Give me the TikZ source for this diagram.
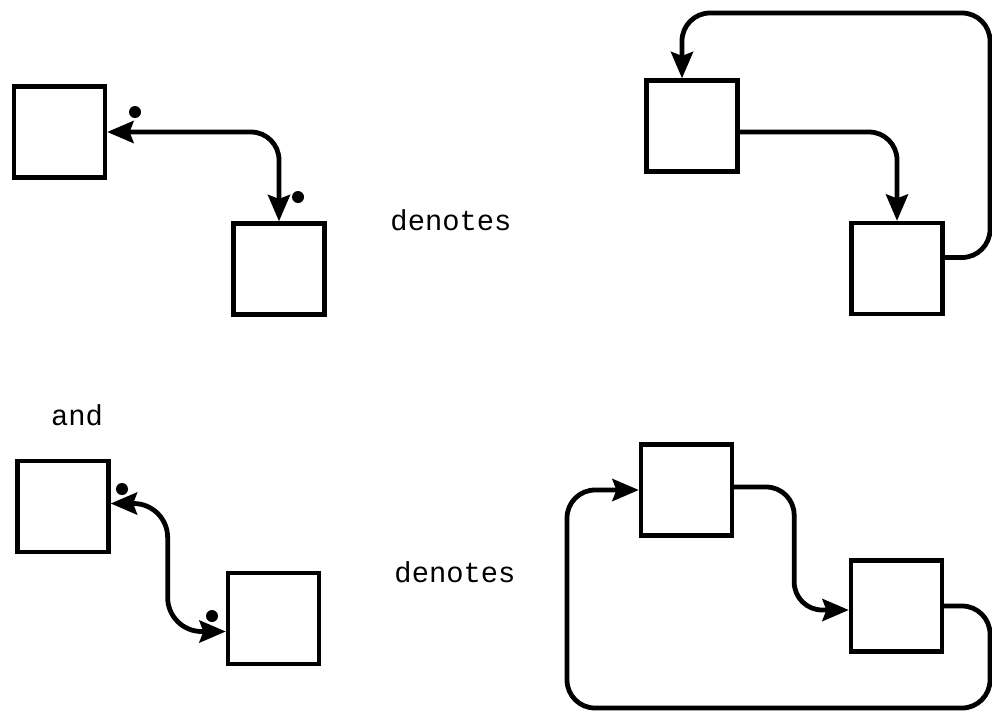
\documentclass[tikz,border=0pt]{standalone}
\usepackage{fontspec}
\setmonofont{Liberation Mono}
\usetikzlibrary{positioning, calc, arrows.meta}

\begin{document}
\begin{tikzpicture}[
    x=0.025cm, y=-0.025cm,
    block/.style={rectangle, draw, line width=3.2pt, minimum width=2.27cm, minimum height=2.27cm, inner sep=0pt},
    wire/.style={line width=3.4pt, rounded corners=0.7cm},
    link/.style={wire, -{Stealth[length=0.66cm, width=0.55cm, inset=0.1cm]}},
    dbllink/.style={wire, {Stealth[length=0.66cm, width=0.55cm, inset=0.1cm]}-{Stealth[length=0.66cm, width=0.55cm, inset=0.1cm]}},
    dot/.style={circle, fill, inner sep=0pt, minimum size=0.3cm},
    label/.style={font=\fontsize{20.5}{24}\selectfont\ttfamily}
]
    \useasboundingbox (0,0) rectangle (992,712);

    % --- Left: shorthand ---
    \node[block] (atop) at (59.5,132) {};
    \node[block] (btop) at (279,269) {};
    \node[block] (cbot) at (63,506.5) {};
    \node[block] (dbot) at (273.5,618.5) {};
    \node[dot] (adot) at (135,112) {};
    \node[dot] (bdot) at (298,197) {};
    \node[dot] (cdot) at (122,489) {};
    \node[dot] (ddot) at (212,616) {};
    \draw[dbllink] (atop.east) -| (btop.north);
    \draw[dbllink, rounded corners=0.85cm] ($(cbot.east)+(0,-3)$) -- ++(57,0) |- ($(dbot.west)+(0,13)$);

    % --- Text ---
    \node[label] (dentop) at (451,220) {denotes};
    \node[label] (andtext) at (77,415) {and};
    \node[label] (denbot) at (455,572) {denotes};

    % --- Right: meaning ---
    \node[block] (etop) at (692,126) {};
    \node[block] (ftop) at (897,268.5) {};
    \node[block] (gbot) at (686.5,490) {};
    \node[block] (hbot) at (896.5,606) {};
    \coordinate (fturn) at (990,13);
    \coordinate (hturn) at (990,708);
    \coordinate (gturn) at (567,708);

    \draw[link] ($(etop.east)+(0,6)$) -| (ftop.north);
    \draw[link] ($(ftop.east)+(0,-11)$) -| (fturn) -| ($(etop.north)+(-10,0)$);
    \draw[link] ($(gbot.east)+(0,-3)$) -- ++(60,0) |- ($(hbot.west)+(0,4)$);
    \draw[link] (hbot.east) -| (hturn) -- (gturn) |- (gbot.west);
\end{tikzpicture}
\end{document}
